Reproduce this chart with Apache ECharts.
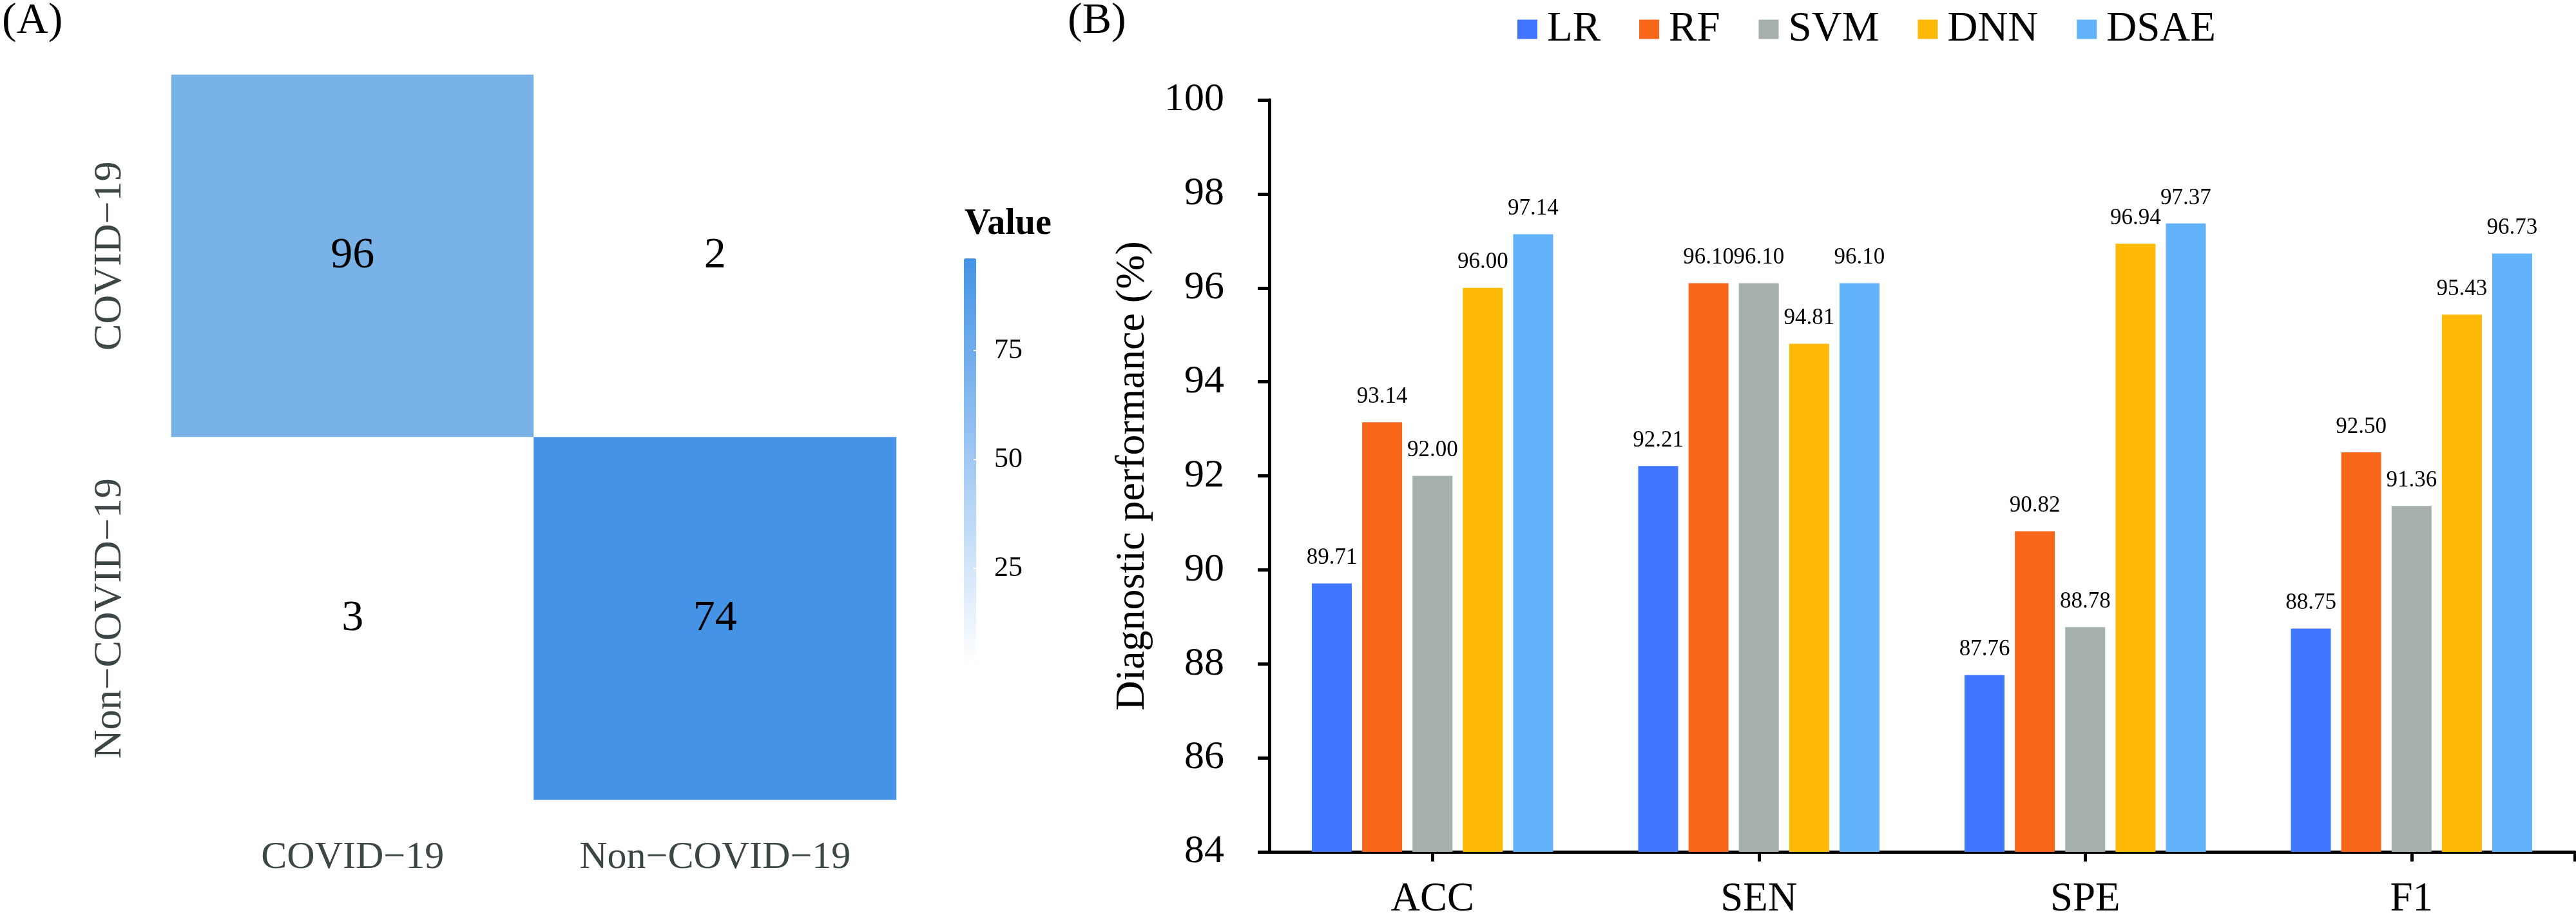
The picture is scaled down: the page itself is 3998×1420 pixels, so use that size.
<!DOCTYPE html>
<html>
<head>
<meta charset="utf-8">
<script src="https://cdn.jsdelivr.net/npm/echarts@6/dist/echarts.min.js"></script>
<style>
  html, body { margin: 0; padding: 0; background: #ffffff; }
  #chart { width: 3998px; height: 1420px; }
</style>
</head>
<body>
<div id="chart"></div>
<script>
// ---------- data ----------
const heatXCats = ['COVID\u221219', 'Non\u2212COVID\u221219'];
const heatYCats = ['Non\u2212COVID\u221219', 'COVID\u221219']; // bottom to top
const heatCells = [[0, 1, 96], [1, 1, 2], [0, 0, 3], [1, 0, 74]];
const colorbarTicks = [25, 50, 75];
const colorbarRange = [3, 96];

const metrics = ['ACC', 'SEN', 'SPE', 'F1'];
const models = ['LR', 'RF', 'SVM', 'DNN', 'DSAE'];
const LR = [89.71, 92.21, 87.76, 88.75];
const RF = [93.14, 96.10, 90.82, 92.50];
const SVM = [92.00, 96.10, 88.78, 91.36];
const DNN = [96.00, 94.81, 96.94, 95.43];
const DSAE = [97.14, 96.10, 97.37, 96.73];

// ---------- styles ----------
const FONT = '"Liberation Serif", "Times New Roman", serif';
const cellFills = ['#78B2E6', '#FFFFFF', '#FFFFFF', '#4493E6']; // fill per cell
const modelColors = ['#4075FF', '#F8661A', '#A4AFAE', '#FFBA07', '#63B3FC'];
const seriesValues = [LR, RF, SVM, DNN, DSAE];

const chart = echarts.init(document.getElementById('chart'), null, { renderer: 'canvas' });

const barSeries = models.map((m, i) => ({
  name: m,
  type: 'bar',
  xAxisIndex: 1,
  yAxisIndex: 1,
  data: seriesValues[i],
  barWidth: 62,
  barGap: '26%',
  itemStyle: { color: modelColors[i] },
  label: {
    show: true,
    position: 'top',
    distance: 22,
    fontFamily: FONT,
    fontSize: 35,
    color: '#000',
    formatter: p => Number(p.value).toFixed(2)
  }
}));

const option = {
  animation: false,
  backgroundColor: '#ffffff',
  title: [
    { text: '(A)', left: -2, top: -6, textStyle: { fontFamily: FONT, fontSize: 68, fontWeight: 'normal', color: '#000' } },
    { text: '(B)', left: 1652, top: -6, textStyle: { fontFamily: FONT, fontSize: 68, fontWeight: 'normal', color: '#000' } },
    { text: 'Value', left: 1492, top: 316, textStyle: { fontFamily: FONT, fontSize: 56, fontWeight: 'bold', color: '#000' } }
  ],
  legend: {
    data: models,
    left: 2350,
    top: 8,
    icon: 'rect',
    itemWidth: 31,
    itemHeight: 30,
    itemGap: 60,
    textStyle: { fontFamily: FONT, fontSize: 65, color: '#000', padding: [0, 0, 0, 10] }
  },
  grid: [
    { left: 266, width: 1125, top: 116, height: 1125, outerBoundsMode: 'none' },
    { left: 1970, right: 2, top: 155, bottom: 98, outerBoundsMode: 'none' },
    { left: 1496, width: 19, top: 375, bottom: 369, outerBoundsMode: 'none' }
  ],
  xAxis: [
    {
      gridIndex: 0, type: 'category', data: heatXCats,
      axisLine: { show: false }, axisTick: { show: false }, splitLine: { show: false },
      axisLabel: { interval: 0, fontFamily: FONT, fontSize: 60, color: '#3C4646', margin: 60 }
    },
    {
      gridIndex: 1, type: 'category', data: metrics, position: 'bottom',
      axisLine: { show: true, lineStyle: { color: '#000', width: 5 } },
      axisTick: { show: true, alignWithLabel: true, length: 15, lineStyle: { color: '#000', width: 5 } },
      axisLabel: { interval: 0, fontFamily: FONT, fontSize: 63, color: '#000', margin: 43 }
    },
    {
      gridIndex: 2, type: 'category', data: [''], show: false
    },
    {
      // end-of-axis tick at the right end of panel B's x axis
      gridIndex: 1, type: 'value', position: 'bottom', min: 0, max: metrics.length,
      axisLine: { show: false },
      axisTick: { show: true, customValues: [metrics.length], length: 15, lineStyle: { color: '#000', width: 5 } },
      axisLabel: { show: false },
      splitLine: { show: false }
    }
  ],
  yAxis: [
    {
      gridIndex: 0, type: 'category', data: heatYCats,
      axisLine: { show: false }, axisTick: { show: false }, splitLine: { show: false },
      axisLabel: { interval: 0, fontFamily: FONT, fontSize: 62, color: '#3C4646', rotate: 90, margin: 64 }
    },
    {
      gridIndex: 1, type: 'value', min: 84, max: 100, interval: 2,
      name: 'Diagnostic performance (%)',
      nameLocation: 'middle',
      nameGap: 180,
      nameTextStyle: { fontFamily: FONT, fontSize: 64, color: '#000' },
      axisLine: { show: true, lineStyle: { color: '#000', width: 5 } },
      axisTick: { show: true, length: 18, lineStyle: { color: '#000', width: 5 } },
      splitLine: { show: false },
      axisLabel: { fontFamily: FONT, fontSize: 62, color: '#000', margin: 70 }
    },
    {
      gridIndex: 2, type: 'value', min: 0, max: 100, interval: 25, position: 'right',
      axisLine: { show: false },
      axisTick: { show: true, inside: true, length: 4, lineStyle: { color: '#ffffff', width: 2 } },
      splitLine: { show: false },
      axisLabel: {
        fontFamily: FONT, fontSize: 44, color: '#000', margin: 28,
        formatter: v => (colorbarTicks.indexOf(v) >= 0 ? String(v) : '')
      },
      z: 10
    }
  ],
  visualMap: {
    type: 'continuous',
    seriesIndex: [],
    min: colorbarRange[0],
    max: colorbarRange[1],
    orient: 'vertical',
    left: 1491,
    top: 396,
    padding: 5,
    itemWidth: 19,
    itemHeight: 629,
    calculable: false,
    text: null,
    showLabel: false,
    inRange: { color: ['#FFFFFF', '#4493E6'] },
    z: 1
  },
  series: [
    {
      type: 'heatmap',
      xAxisIndex: 0,
      yAxisIndex: 0,
      data: heatCells.map((d, i) => ({ value: d, itemStyle: { color: cellFills[i] } })),
      label: {
        show: true,
        fontFamily: FONT,
        fontSize: 68,
        color: '#000',
        formatter: p => String(p.value[2])
      },
      emphasis: { disabled: true }
    }
  ].concat(barSeries)
};

chart.setOption(option);
</script>
</body>
</html>
